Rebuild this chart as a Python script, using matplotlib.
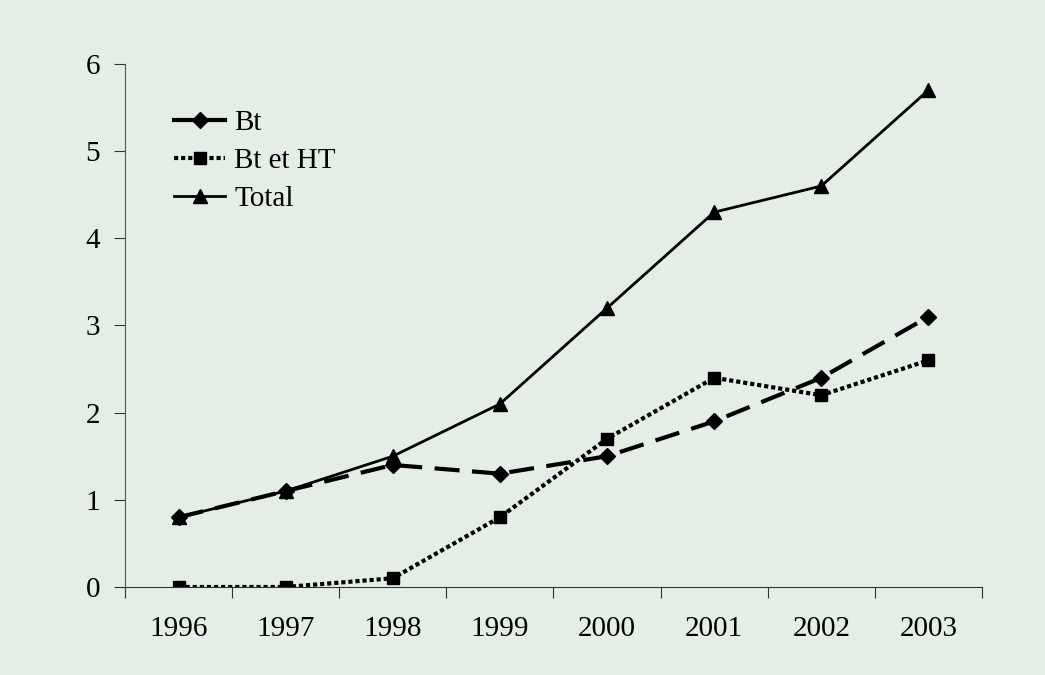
import matplotlib.pyplot as plt
from matplotlib.lines import Line2D

years = ["1996", "1997", "1998", "1999", "2000", "2001", "2002", "2003"]
bt = [0.8, 1.1, 1.4, 1.3, 1.5, 1.9, 2.4, 3.1]
bt_ht = [0.0, 0.0, 0.1, 0.8, 1.7, 2.4, 2.2, 2.6]
total = [0.8, 1.1, 1.5, 2.1, 3.2, 4.3, 4.6, 5.7]
y_ticks = [0, 1, 2, 3, 4, 5, 6]

bg = "#e4eee6"
plt.rcParams['font.family'] = ['Liberation Serif', 'DejaVu Serif']

fig = plt.figure(figsize=(10.45, 6.75), dpi=100, facecolor=bg)
ax = fig.add_axes([0.1196, 0.1304, 0.8201, 0.7748], facecolor=bg)

x = range(len(years))
ax.plot(x, total, color='black', linewidth=2, marker='^', markersize=10)
ax.plot(x, bt, color='black', linewidth=3, dashes=(6, 3), marker='D', markersize=8)
ax.plot(x, bt_ht, color='black', linewidth=3, linestyle=(0, (1, 0.7)), marker='s', markersize=9)

ax.set_xlim(-0.5, len(years) - 0.5)
ax.set_ylim(0, 6)
ax.set_yticks(y_ticks)
# ticks sit between categories, labels under the points
ax.set_xticks([i + 0.5 for i in range(-1, len(years))])
ax.set_xticklabels([])
ax.set_xticks(list(x), minor=True)
ax.set_xticklabels(years, minor=True)
ax.tick_params(axis='x', which='minor', length=0, pad=21, labelsize=21)
ax.tick_params(axis='x', which='major', direction='out', length=8, color='#333333')
ax.tick_params(axis='y', direction='out', length=8, color='#333333', labelsize=21, pad=10)

for side in ['top', 'right']:
    ax.spines[side].set_visible(False)
ax.spines['left'].set_color('#555555')
ax.spines['bottom'].set_color('#333333')

# legend in the original draws Bt as a solid line
handles = [
    Line2D([], [], color='black', linewidth=3, marker='D', markersize=8),
    Line2D([], [], color='black', linewidth=3, linestyle=(0, (1, 0.7)), marker='s', markersize=9),
    Line2D([], [], color='black', linewidth=2, marker='^', markersize=10),
]
ax.legend(handles, ["Bt", "Bt et HT", "Total"], loc='upper left', bbox_to_anchor=(0.044, 0.935),
          frameon=False, fontsize=21, handlelength=1.75, handletextpad=0.3, labelspacing=0.4,
          borderaxespad=0)

fig.savefig("out.png", dpi=100, facecolor=bg)
